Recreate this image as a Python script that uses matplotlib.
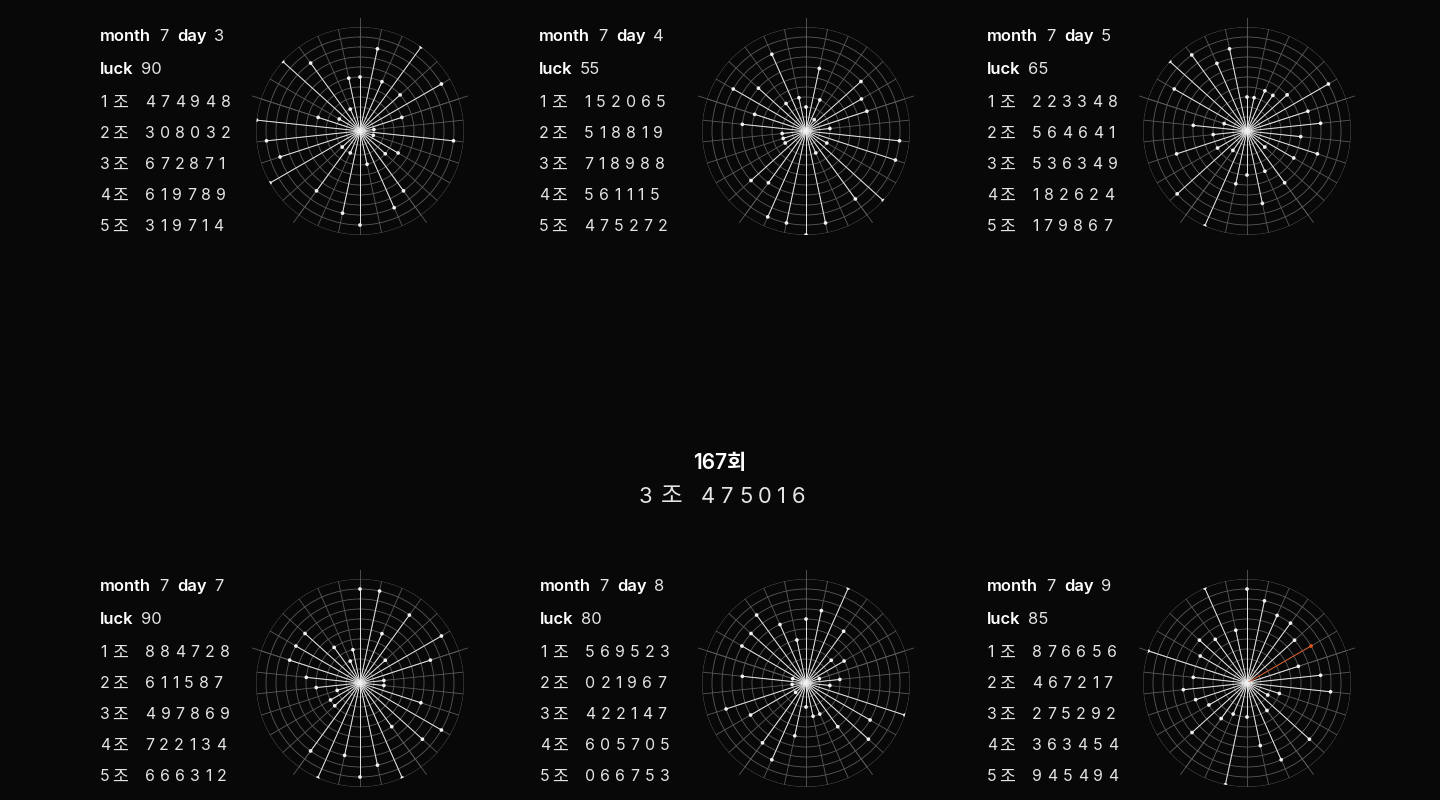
import numpy as np
import matplotlib
matplotlib.use("Agg")
import matplotlib.pyplot as plt
from matplotlib.font_manager import FontProperties, findfont
from matplotlib.ft2font import FT2Font

# ---------------- data ----------------
round_title = "167회"
win_group = "3"
win_number = "475016"

months = [7, 7, 7, 7, 7, 7]
days = [3, 4, 5, 7, 8, 9]
lucks = [90, 55, 65, 90, 80, 85]
group_numbers = [
    ["474948", "308032", "672871", "619789", "319714"],
    ["152065", "518819", "718988", "561115", "475272"],
    ["223348", "564641", "536349", "182624", "179867"],
    ["884728", "611587", "497869", "722134", "666312"],
    ["569523", "021967", "422147", "605705", "066753"],
    ["876656", "467217", "275292", "363454", "945494"],
]
highlight = {5: [5]}  # chart index -> highlighted spoke indices

# ---------------- style ----------------
BG = "#080808"
GRID = "#5a5a5a"
TXT = "#e4e4e4"
FAM = ["Inter", "Noto Sans CJK KR", "DejaVu Sans"]
KFAM = ["Noto Sans CJK KR", "DejaVu Sans"]
W, H = 1440, 800

fig = plt.figure(figsize=(14.4, 8), dpi=100, facecolor=BG)


def fx(x):
    return x / W


def fy(y):
    return 1 - y / H


def put(x, y, s, size, weight, color, ha="left", family=FAM):
    fig.text(fx(x), fy(y), s, fontsize=size, fontweight=weight, color=color,
             ha=ha, va="baseline", family=family)


_cache = {}


def adv(ch, weight, size_px):
    fp = FontProperties(family=FAM, weight=weight)
    key = (ch, weight, size_px)
    if key not in _cache:
        f = FT2Font(findfont(fp))
        f.set_size(size_px, 72)
        g = f.load_char(ord(ch))
        _cache[key] = g.linearHoriAdvance / 65536
    return _cache[key]


def spaced(x, y, s, size_pt, weight, color, step):
    size_px = size_pt * 100 / 72
    extra = step - adv("0", weight, size_px)
    for ch in s:
        a = adv(ch, weight, size_px)
        fig.text(fx(x + a / 2), fy(y), ch, fontsize=size_pt, fontweight=weight,
                 color=color, ha="center", va="baseline", family=FAM)
        x += a + extra


centers = [(360, 131), (806, 131), (1247, 131), (360, 683), (806, 683), (1247, 683)]
text_x = [100, 539, 987, 100, 540, 987]
R = 104
theta = np.deg2rad(np.arange(30) * 12)

for i in range(6):
    cx, cy = centers[i]
    ax = fig.add_axes([fx(cx - R), fy(cy + R), 2 * R / W, 2 * R / H], projection="polar")
    ax.set_facecolor("none")
    ax.set_theta_zero_location("N")
    ax.set_theta_direction(-1)
    ax.set_ylim(-0.4, 10)
    ax.set_xticks(theta)
    ax.set_xticklabels([])
    ax.set_yticks(np.arange(1, 11))
    ax.set_yticklabels([])
    ax.tick_params(length=0)
    ax.grid(True, color=GRID, lw=0.6)
    ax.spines["polar"].set_visible(False)
    for a in np.deg2rad([0, 72, 144, 216, 288]):
        ax.plot([a, a], [-0.4, 10.9], color=GRID, lw=0.6, clip_on=False)

    vals = np.array([int(c) + 1 for g in group_numbers[i] for c in g])
    cols = ["#f2f2f2"] * 30
    for k in highlight.get(i, []):
        cols[k] = "#e2561c"
    ax.vlines(theta, -0.4, vals, colors=cols, lw=0.7, alpha=0.9, zorder=3)
    ax.scatter(theta, vals, s=7, c=cols, zorder=4, linewidths=0)

    # text block
    x0 = text_x[i]
    yo = 0 if i < 3 else 550
    put(x0, 41 + yo, "month", 11.9, "semibold", "white")
    put(x0 + 59, 41 + yo, str(months[i]), 11.9, "normal", TXT)
    put(x0 + 77, 41 + yo, "day", 11.9, "semibold", "white")
    put(x0 + 114, 41 + yo, str(days[i]), 11.9, "normal", TXT)
    put(x0, 74 + yo, "luck", 11.9, "semibold", "white")
    put(x0 + 41, 74 + yo, str(lucks[i]), 11.9, "normal", TXT)
    for g, num in enumerate(group_numbers[i]):
        yb = 107 + 31 * g + yo
        put(x0, yb, str(g + 1), 11.4, "normal", TXT)
        put(x0 + 12, yb + 0.5, "조", 12.4, "normal", TXT, family=KFAM)
        spaced(x0 + 45, yb, num, 11.4, "normal", TXT, 15.3)

# center title
put(720, 469, round_title, 15, "semibold", "white", ha="center")
put(639, 503, win_group, 15.8, "normal", TXT)
put(661, 503.5, "조", 17, "normal", TXT, family=KFAM)
spaced(701, 503, win_number, 15.8, "normal", TXT, 19.5)

fig.savefig("out.png", dpi=100, facecolor=BG)
